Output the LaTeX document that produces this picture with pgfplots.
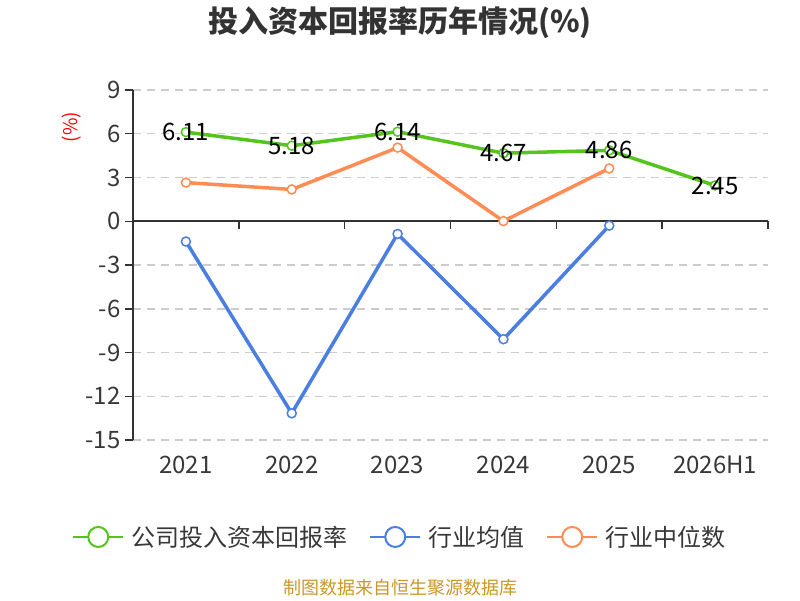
\documentclass[border=0pt]{standalone}
\usepackage{fontspec}
\setmainfont{Noto Sans CJK SC}
\usepackage{pgfplots}
\pgfplotsset{compat=1.18}
\definecolor{gcol}{RGB}{86,196,30}
\definecolor{bcol}{RGB}{74,126,224}
\definecolor{ocol}{RGB}{255,140,85}
\definecolor{axcol}{RGB}{51,51,51}
\definecolor{tkcol}{RGB}{56,56,56}
\definecolor{gridcol}{RGB}{204,204,204}
\definecolor{srccol}{RGB}{204,150,40}
\begin{document}
\begin{tikzpicture}[x=1pt,y=1pt]
\useasboundingbox (0,0) rectangle (800,600);
\begin{axis}[
  at={(133pt,160pt)}, anchor=south west,
  scale only axis, width=635pt, height=350pt,
  xmin=-0.5, xmax=5.5, ymin=-15, ymax=9,
  xtick={0,1,2,3,4,5},
  xticklabels={2021,2022,2023,2024,2025,2026H1},
  ytick={-15,-12,-9,-6,-3,0,3,6,9},
  axis x line=bottom, axis y line=left,
  x axis line style={draw=none},
  y axis line style={-, line width=1.5pt, color=axcol},
  x tick style={draw=none},
  y tick style={line width=1.5pt, color=axcol},
  tick align=outside, major tick length=8pt,
  ymajorgrids,
  grid style={dash pattern=on 8pt off 6pt, line width=1.5pt, gridcol},
  tick label style={font=\fontsize{24}{24}\selectfont, text=tkcol},
  yticklabel style={xshift=-1pt},
  xticklabel style={anchor=center, yshift=-17pt},
  /pgf/number format/assume math mode=true,
  clip=false,
  legend columns=3,
  legend cell align=left,
  legend style={at={(axis description cs:-0.096,-0.277)}, anchor=west,
    draw=none, fill=none, inner sep=0pt,
    font=\fontsize{24}{24}\selectfont, text=tkcol,
    /tikz/every odd column/.append style={column sep=5pt},
    /tikz/every even column/.append style={column sep=20pt}},
]
\draw[axcol, line width=2pt] (axis cs:-0.5,0) -- (axis cs:5.5,0);
\draw[axcol, line width=1.5pt] (axis cs:0.5,0) -- ++(0pt,-8pt);
\draw[axcol, line width=1.5pt] (axis cs:1.5,0) -- ++(0pt,-8pt);
\draw[axcol, line width=1.5pt] (axis cs:2.5,0) -- ++(0pt,-8pt);
\draw[axcol, line width=1.5pt] (axis cs:3.5,0) -- ++(0pt,-8pt);
\draw[axcol, line width=1.5pt] (axis cs:4.5,0) -- ++(0pt,-8pt);
\draw[axcol, line width=1.5pt] (axis cs:5.5,0) -- ++(0pt,-8pt);

\addplot[gcol, line width=3.5pt, mark=*, mark size=4.5pt,
  mark options={fill=white, line width=1.5pt},
  nodes near coords, point meta=explicit symbolic,
  every node near coord/.style={anchor=center, font=\fontsize{24}{24}\selectfont, text=black},
  legend image code/.code={
    \draw[gcol, line width=2pt] (0pt,0pt) -- (50pt,0pt);
    \draw[gcol, line width=2pt, fill=white] (25pt,0pt) circle (10pt);}]
coordinates {(0,6.11)[6.11] (1,5.18)[5.18] (2,6.14)[6.14] (3,4.67)[4.67] (4,4.86)[4.86] (5,2.45)[2.45]};

\addplot[bcol, line width=3.5pt, mark=*, mark size=4.5pt,
  mark options={fill=white, line width=1.5pt},
  legend image code/.code={
    \draw[bcol, line width=2pt] (0pt,0pt) -- (50pt,0pt);
    \draw[bcol, line width=2pt, fill=white] (25pt,0pt) circle (10pt);}]
coordinates {(0,-1.39) (1,-13.17) (2,-0.87) (3,-8.09) (4,-0.30)};

\addplot[ocol, line width=3.5pt, mark=*, mark size=4.5pt,
  mark options={fill=white, line width=1.5pt},
  legend image code/.code={
    \draw[ocol, line width=2pt] (0pt,0pt) -- (50pt,0pt);
    \draw[ocol, line width=2pt, fill=white] (25pt,0pt) circle (10pt);}]
coordinates {(0,2.65) (1,2.18) (2,5.05) (3,0.01) (4,3.62)};

\legend{公司投入资本回报率,行业均值,行业中位数}
\end{axis}
\node[font=\fontsize{30}{30}\selectfont\bfseries, text=axcol] at (400,577) {投入资本回报率历年情况(\%)};
\node[font=\fontsize{19}{19}\selectfont, text=red, rotate=90] at (72,473) {(\%)};
\node[font=\fontsize{18}{18}\selectfont, text=srccol] at (400,12) {制图数据来自恒生聚源数据库};
\end{tikzpicture}
\end{document}
